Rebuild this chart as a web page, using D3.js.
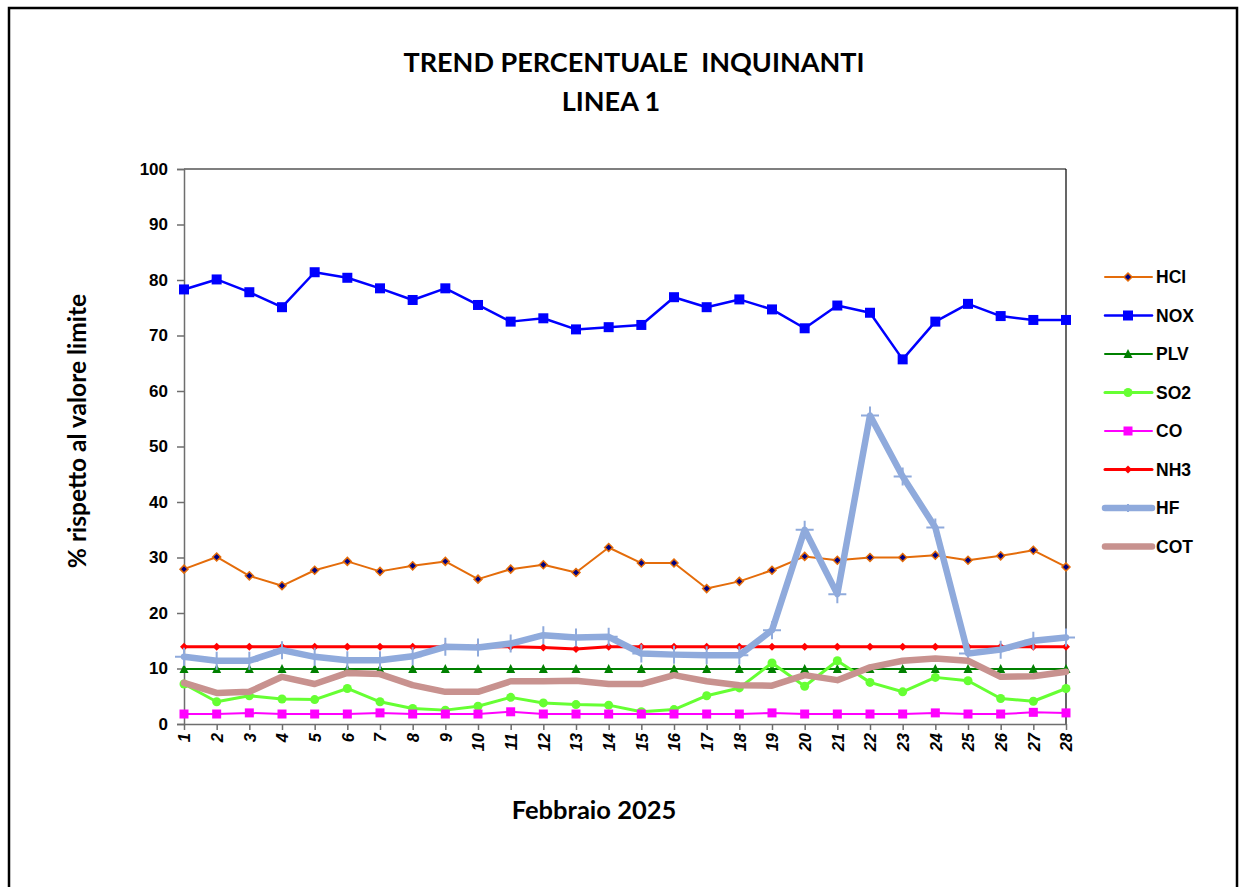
<!DOCTYPE html>
<html>
<head>
<meta charset="utf-8">
<script src="https://cdn.jsdelivr.net/npm/d3@7"></script>
<style>
html,body{margin:0;padding:0;background:#fff;}
svg{display:block;}
</style>
</head>
<body>
<svg id="chart" width="1239" height="887"></svg>
<script>
const days = d3.range(1, 29);
const yTicks = [0,10,20,30,40,50,60,70,80,90,100];
const seriesNames = ["HCl","NOX","PLV","SO2","CO","NH3","HF","COT"];
const legendLabels = ["HCl","NOX","PLV","SO2","CO","NH3","HF","COT"];

const HCl = [27.9,30.1,26.7,24.9,27.7,29.3,27.5,28.5,29.3,26.1,27.9,28.7,27.3,31.8,29.0,29.0,24.4,25.7,27.7,30.2,29.5,30.0,30.0,30.4,29.5,30.3,31.3,28.3];
const NOX = [78.3,80.1,77.8,75.1,81.4,80.4,78.5,76.4,78.5,75.5,72.5,73.1,71.1,71.5,71.9,76.9,75.1,76.5,74.7,71.3,75.4,74.1,65.7,72.5,75.7,73.5,72.8,72.8];
const PLV = [9.9,9.9,9.9,9.9,9.9,9.9,9.9,9.9,9.9,9.9,9.9,9.9,9.9,9.9,9.9,9.9,9.9,9.9,9.9,9.9,9.9,9.9,9.9,9.9,9.9,9.9,9.9,9.9];
const SO2 = [7.2,4.0,5.1,4.5,4.4,6.4,4.0,2.8,2.5,3.2,4.8,3.8,3.5,3.4,2.2,2.6,5.1,6.5,11.0,6.8,11.4,7.5,5.8,8.4,7.8,4.6,4.1,6.4];
const CO  = [1.8,1.8,2.0,1.8,1.8,1.8,2.0,1.8,1.8,1.8,2.2,1.8,1.8,1.8,1.8,1.8,1.8,1.8,2.0,1.8,1.8,1.8,1.8,2.0,1.8,1.8,2.1,2.0];
const NH3 = [13.9,13.9,13.9,13.9,13.9,13.9,13.9,13.9,13.9,13.9,13.9,13.8,13.5,13.9,13.9,13.9,13.9,13.9,13.9,13.9,13.9,13.9,13.9,13.9,13.9,13.9,13.9,13.9];
const HF  = [12.1,11.4,11.4,13.3,12.1,11.5,11.5,12.2,13.9,13.8,14.5,16.0,15.6,15.7,12.7,12.5,12.4,12.4,16.9,35.0,23.4,55.6,44.6,35.4,12.7,13.4,15.0,15.6];
const COT = [7.4,5.6,5.8,8.5,7.2,9.2,9.0,7.0,5.8,5.8,7.7,7.7,7.8,7.2,7.2,8.8,7.7,7.0,6.9,8.8,7.9,10.2,11.4,11.8,11.4,8.5,8.6,9.4];

const dataBy = {HCl, NOX, PLV, SO2, CO, NH3, HF, COT};

const styles = {
  HCl: {color:"#E46C0A", width:2, marker:"hcl"},
  NOX: {color:"#0000FF", width:2.5, marker:"square", size:10},
  PLV: {color:"#008000", width:2, marker:"triangle", size:9},
  SO2: {color:"#66FF33", width:3, marker:"circle", size:9},
  CO:  {color:"#FF00FF", width:2, marker:"square", size:9},
  NH3: {color:"#FF0000", width:3, marker:"diamond", size:8},
  HF:  {color:"#8FAADC", width:6.5, marker:"plus", size:18},
  COT: {color:"#C8928F", width:6.5, marker:null}
};

const svg = d3.select("#chart");
const L = 184, R = 1066, T = 169, B = 724;

// outer frame
svg.append("rect").attr("x",9).attr("y",8).attr("width",1228).attr("height",900)
  .attr("fill","#fff").attr("stroke","#000").attr("stroke-width",2.5);

const x = d3.scaleLinear().domain([1,28]).range([L,R]);
const y = d3.scaleLinear().domain([0,100]).range([B,T]);

// plot border top & right
svg.append("line").attr("x1",L).attr("x2",R).attr("y1",T).attr("y2",T).attr("stroke","#000").attr("stroke-width",1.2);
svg.append("line").attr("x1",R).attr("x2",R).attr("y1",T).attr("y2",B).attr("stroke","#000").attr("stroke-width",1.2);

const tickFont = "'Liberation Sans', Arial, sans-serif";
// y axis
const yAx = svg.append("g").attr("transform",`translate(${L},0)`)
  .call(d3.axisLeft(y).tickValues(yTicks).tickSize(7).tickPadding(9).tickFormat(d3.format("d")));
yAx.selectAll("path,line").attr("stroke","#6e6e6e").attr("stroke-width",1.5);
yAx.selectAll("text").attr("font-family",tickFont)
  .attr("font-weight","bold").attr("font-size","17px").attr("fill","#000");

// x axis
const xAx = svg.append("g").attr("transform",`translate(0,${B})`)
  .call(d3.axisBottom(x).tickValues(days).tickSize(6).tickSizeOuter(0).tickFormat(d3.format("d")));
xAx.select(".domain").attr("stroke","#6e6e6e").attr("stroke-width",1.5);
xAx.selectAll("line").attr("stroke","#6e6e6e").attr("stroke-width",1.5);
xAx.selectAll("text")
  .attr("font-family",tickFont)
  .attr("font-weight","bold").attr("font-style","italic").attr("font-size","16.5px").attr("fill","#000")
  .attr("text-anchor","end").attr("dy","0.35em")
  .attr("transform","translate(0,9) rotate(-90)")
  .attr("x",0).attr("y",0);

// lines
const line = d3.line().x((d,i)=>x(days[i])).y(d=>y(d));
seriesNames.forEach(name => {
  const s = styles[name];
  const vals = dataBy[name];
  const g = svg.append("g");
  g.append("path").datum(vals).attr("d",line).attr("fill","none")
    .attr("stroke",s.color).attr("stroke-width",s.width).attr("stroke-linejoin","round").attr("stroke-linecap","round");
  drawMarkers(g, vals.map((v,i)=>[x(days[i]),y(v)]), s);
});

function drawMarkers(g, pts, s){
  if(!s.marker) return;
  pts.forEach(([px,py])=>{
    if(s.marker==="square"){
      g.append("rect").attr("x",px-s.size/2).attr("y",py-s.size/2).attr("width",s.size).attr("height",s.size).attr("fill",s.color);
    } else if(s.marker==="circle"){
      g.append("circle").attr("cx",px).attr("cy",py).attr("r",s.size/2).attr("fill",s.color);
    } else if(s.marker==="triangle"){
      const h=s.size;
      g.append("path").attr("d",`M${px},${py-h*0.55}L${px+h/2},${py+h*0.45}L${px-h/2},${py+h*0.45}Z`).attr("fill",s.color);
    } else if(s.marker==="diamond"){
      const h=s.size/2;
      g.append("path").attr("d",`M${px},${py-h}L${px+h},${py}L${px},${py+h}L${px-h},${py}Z`).attr("fill",s.color);
    } else if(s.marker==="hcl"){
      const h=4;
      g.append("path").attr("d",`M${px},${py-h}L${px+h},${py}L${px},${py+h}L${px-h},${py}Z`)
        .attr("fill","#000080").attr("stroke",s.color).attr("stroke-width",1.5);
    } else if(s.marker==="plus"){
      const h=s.size/2;
      g.append("path").attr("d",`M${px-h},${py}H${px+h}M${px},${py-h}V${py+h}`)
        .attr("stroke",s.color).attr("stroke-width",2).attr("fill","none");
    }
  });
}

// legend
const legY0 = 277, legDY = 38.5;
seriesNames.forEach((name,i)=>{
  const s = styles[name];
  const ly = legY0 + i*legDY;
  const g = svg.append("g");
  g.append("line").attr("x1",1105).attr("x2",1152).attr("y1",ly).attr("y2",ly)
    .attr("stroke",s.color).attr("stroke-width",s.width).attr("stroke-linecap","round");
  const ms = Object.assign({}, s);
  if(s.marker==="plus") ms.size = 8;
  drawMarkers(g, [[1128,ly]], ms);
  g.append("text").attr("x",1156).attr("y",ly).attr("dy","0.36em")
    .attr("font-family",tickFont).attr("font-weight","bold").attr("font-size","17.5px")
    .text(legendLabels[i]);
});

// titles
const titleFont = "Lato, 'Open Sans', sans-serif";
svg.append("text").attr("x",634).attr("y",72).attr("text-anchor","middle")
  .attr("font-family",titleFont).attr("font-weight","bold").attr("font-size","27px")
  .style("white-space","pre")
  .text("TREND PERCENTUALE  INQUINANTI");
svg.append("text").attr("x",611).attr("y",111).attr("text-anchor","middle")
  .attr("font-family",titleFont).attr("font-weight","bold").attr("font-size","27px")
  .text("LINEA 1");

svg.append("text").attr("transform","translate(86,431) rotate(-90)").attr("text-anchor","middle")
  .attr("font-family",titleFont).attr("font-weight","bold").attr("font-size","24.5px")
  .text("% rispetto al valore limite");

svg.append("text").attr("x",594).attr("y",819).attr("text-anchor","middle")
  .attr("font-family",titleFont).attr("font-weight","bold").attr("font-size","25.5px")
  .text("Febbraio 2025");
</script>
</body>
</html>
